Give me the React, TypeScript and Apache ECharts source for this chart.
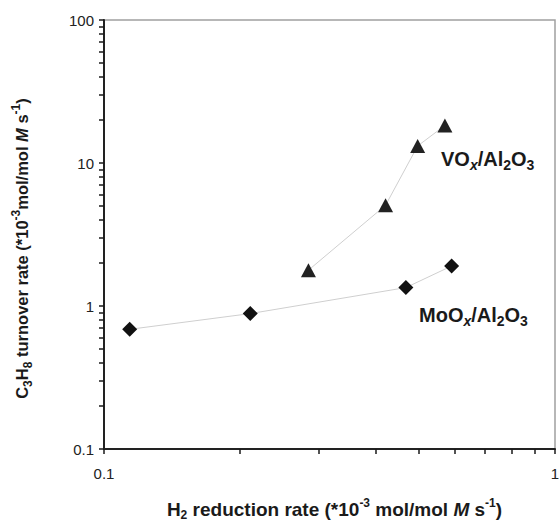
import React, { useEffect, useRef } from "react";
import * as echarts from "echarts";

// Data (log-log)
const moX = [0.114, 0.211, 0.467, 0.59];
const moY = [0.687, 0.885, 1.345, 1.905];
const vX = [0.284, 0.421, 0.496, 0.57];
const vY = [1.78, 5.06, 13.15, 18.3];

const X_MIN = 0.1;
const X_MAX = 1;
const Y_MIN = 0.1;
const Y_MAX = 100;
const X_MAJOR = [0.1, 1];
const Y_MAJOR = [0.1, 1, 10, 100];
const MINOR_STEPS = [2, 3, 4, 5, 6, 7, 8, 9];

const FONT = "'Liberation Sans', Arial, Helvetica, sans-serif";

const withMinor = (major: number[]) => {
  const out: number[] = [...major];
  major.slice(0, -1).forEach((d) => MINOR_STEPS.forEach((s) => out.push(+(d * s).toPrecision(6))));
  return out.sort((a, b) => a - b);
};
const xTicks = withMinor(X_MAJOR);
const yTicks = withMinor(Y_MAJOR);

const makeTitleRich = (fs: number, lh: number) => ({
  b: { fontSize: fs, fontWeight: "bold", fontFamily: FONT, color: "#1a1a1a", lineHeight: lh, verticalAlign: "middle" },
  i: { fontSize: fs, fontWeight: "bold", fontStyle: "italic", fontFamily: FONT, color: "#1a1a1a", lineHeight: lh, verticalAlign: "middle" },
  sub: { fontSize: 12, fontWeight: "bold", fontFamily: FONT, color: "#1a1a1a", lineHeight: 12, verticalAlign: "bottom" },
  sup: { fontSize: 12, fontWeight: "bold", fontFamily: FONT, color: "#1a1a1a", lineHeight: 12, verticalAlign: "top" },
});

const labelRich = {
  b: { fontSize: 20, fontWeight: "bold", fontFamily: FONT, fill: "#1a1a1a", color: "#1a1a1a", lineHeight: 26, verticalAlign: "middle" },
  si: { fontSize: 14, fontWeight: "bold", fontStyle: "italic", fontFamily: FONT, fill: "#1a1a1a", color: "#1a1a1a", lineHeight: 14, verticalAlign: "bottom" },
  s: { fontSize: 14, fontWeight: "bold", fontFamily: FONT, fill: "#1a1a1a", color: "#1a1a1a", lineHeight: 14, verticalAlign: "bottom" },
};

export default function App() {
  const ref = useRef<HTMLDivElement>(null);
  useEffect(() => {
    if (!ref.current) return;
    const chart = echarts.init(ref.current, undefined, { renderer: "svg" });
    const axisLabel = { fontSize: 15, color: "#222", fontFamily: FONT };
    chart.setOption({
      animation: false,
      backgroundColor: "#fff",
      grid: {
        left: 104,
        top: 20,
        right: 4,
        bottom: 73,
        show: true,
        borderColor: "#a0a0a0",
        borderWidth: 1.5,
        outerBoundsMode: "none",
        containLabel: false,
      },
      xAxis: [
        {
          type: "log",
          logBase: 10,
          min: X_MIN,
          max: X_MAX,
          splitLine: { show: false },
          axisLine: { show: true, lineStyle: { color: "#222", width: 2 } },
          axisTick: { show: true, length: 5, customValues: xTicks, lineStyle: { color: "#1a1a1a", width: 1.5 } },
          axisLabel: { ...axisLabel, margin: 17, customValues: X_MAJOR },
          name: "{b|H}{sub|2}{b| reduction rate (*10}{sup|-3}{b| mol/mol }{i|M }{b|s}{sup|-1}{b|)}",
          nameLocation: "middle",
          nameGap: 48,
          nameTextStyle: { rich: makeTitleRich(19, 24), padding: [0, 0, 0, 10] },
        },
      ],
      yAxis: [
        {
          type: "log",
          logBase: 10,
          min: Y_MIN,
          max: Y_MAX,
          splitLine: { show: false },
          axisLine: { show: true, lineStyle: { color: "#222", width: 2 } },
          axisTick: { show: true, length: 5, customValues: yTicks, lineStyle: { color: "#1a1a1a", width: 1.5 } },
          axisLabel: { ...axisLabel, margin: 10, customValues: Y_MAJOR },
          name: "{b|C}{sub|3}{b|H}{sub|8}{b| turnover rate (*10}{sup|-3}{b|mol/mol }{i|M }{b|s}{sup|-1}{b|)}",
          nameLocation: "middle",
          nameRotate: 90,
          nameGap: 70,
          nameTextStyle: { rich: makeTitleRich(16.5, 24), padding: [0, 28, 0, 0] },
        },
      ],
      series: [
        {
          type: "line",
          data: moX.map((x, i) => [x, moY[i]]),
          symbol: "diamond",
          symbolSize: 15,
          lineStyle: { color: "#cfcfcf", width: 1 },
          itemStyle: { color: "#111" },
          z: 3,
        },
        {
          type: "line",
          data: vX.map((x, i) => [x, vY[i]]),
          symbol: "triangle",
          symbolSize: [15, 14],
          lineStyle: { color: "#cfcfcf", width: 1 },
          itemStyle: { color: "#222" },
          z: 3,
        },
      ],
      graphic: [
        {
          type: "text",
          x: 441,
          y: 159,
          style: {
            text: "{b|VO}{si|x}{b|/Al}{s|2}{b|O}{s|3}",
            rich: labelRich,
            verticalAlign: "middle",
            fill: "#1a1a1a",
          },
        },
        {
          type: "text",
          x: 419,
          y: 315,
          style: {
            text: "{b|MoO}{si|x}{b|/Al}{s|2}{b|O}{s|3}",
            rich: labelRich,
            verticalAlign: "middle",
            fill: "#1a1a1a",
          },
        },
      ],
    });
    return () => chart.dispose();
  }, []);
  return <div ref={ref} style={{ width: 559, height: 522, position: "absolute", left: 0, top: 0 }} />;
}
